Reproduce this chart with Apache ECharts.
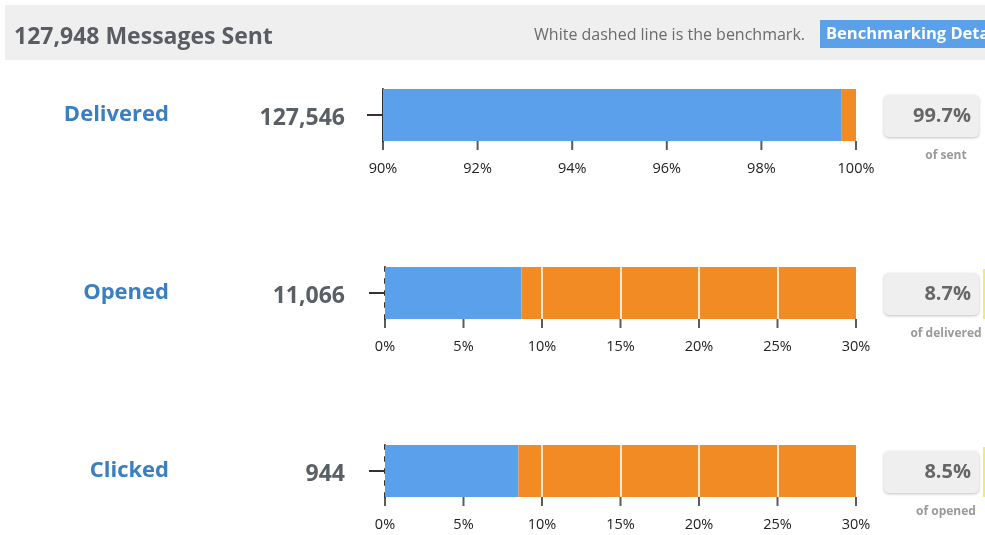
<!DOCTYPE html>
<html><head><meta charset="utf-8">
<script src="https://cdn.jsdelivr.net/npm/echarts@6/dist/echarts.min.js"></script>
<style>html,body{margin:0;padding:0;background:#fff}#c{width:985px;height:535px}</style>
</head><body><div id="c"></div>
<script>
const totalSent = 127948;
const stages = ['Delivered', 'Opened', 'Clicked'];
const counts = [127546, 11066, 944];
const rates = [99.7, 8.7, 8.5];
const rateLabels = ['99.7%', '8.7%', '8.5%'];
const ofLabels = ['of sent', 'of delivered', 'of opened'];
const axisMin = [90, 0, 0];
const axisMax = [100, 30, 30];
const axisInterval = [2, 5, 5];
const tickValues = [[90, 92, 94, 96, 98, 100], [0, 5, 10, 15, 20, 25, 30], [0, 5, 10, 15, 20, 25, 30]];
const gridLines = [[], [10, 15, 20, 25], [10, 15, 20, 25]];

const BLUE = '#5ba0ea', ORANGE = '#f28b24';
const gridTops = [89, 267, 445];
const gridLefts = [383, 385, 385];
const FONT = '"Open Sans", "Noto Sans", sans-serif';

const grids = [], xAxes = [], yAxes = [], series = [], graphics = [];

graphics.push({type:'rect', shape:{x:5,y:5,width:980,height:55}, style:{fill:'#efefef'}, z:0});
graphics.push({type:'text', x:14, y:37, style:{text: totalSent.toLocaleString('en-US') + ' Messages Sent', font:'bold 23px ' + FONT, fill:'#595d63', textVerticalAlign:'middle'}});
graphics.push({type:'text', x:805, y:35, style:{text:'White dashed line is the benchmark.', font:'16px ' + FONT, fill:'#6b6b6b', textAlign:'right', textVerticalAlign:'middle'}});
graphics.push({type:'rect', shape:{x:820,y:20,width:170,height:28}, style:{fill:BLUE}});
graphics.push({type:'text', x:826, y:34, style:{text:'Benchmarking Details', font:'bold 16.5px ' + FONT, fill:'#fff', textVerticalAlign:'middle'}});

stages.forEach((s, i) => {
  const top = gridTops[i];
  const g = grids.length;
  // bar grid
  grids.push({left: gridLefts[i], right: 129, top: top, height: 52});
  xAxes.push({type:'value', gridIndex:g, min:axisMin[i], max:axisMax[i], interval:axisInterval[i], show:false});
  yAxes.push({
    type:'category', gridIndex:g, data:[s],
    axisLine:{show:true, lineStyle:{color:'#333', width:2, type: i === 0 ? 'solid' : [4, 8]}},
    axisTick:{show:true, alignWithLabel:true, length:16, lineStyle:{color:'#333', width:2}},
    axisLabel:{show:false}
  });
  // tick strip grid below the bar
  grids.push({left: gridLefts[i], right: 129, top: top + 52, height: 9});
  xAxes.push({
    type:'value', gridIndex:g + 1, min:axisMin[i], max:axisMax[i], interval:axisInterval[i],
    axisLine:{show:false}, axisTick:{show:false}, splitLine:{show:false},
    axisLabel:{formatter:'{value}%', color:'#222', fontSize:14.5, margin:11, fontFamily:FONT}
  });
  yAxes.push({type:'value', gridIndex:g + 1, show:false, min:0, max:1});

  series.push({
    type:'bar', xAxisIndex:g, yAxisIndex:g, stack:'s'+i, data:[rates[i]],
    barWidth:'100%', itemStyle:{color:BLUE}, silent:true, z:3
  });
  series.push({
    type:'bar', xAxisIndex:g, yAxisIndex:g, stack:'s'+i, data:[+(axisMax[i] - rates[i]).toFixed(2)],
    barWidth:'100%', itemStyle:{color:ORANGE}, silent:true, z:3,
    markLine: gridLines[i].length ? {
      symbol:'none', silent:true, label:{show:false},
      lineStyle:{color:'#f6e6d6', width:2, type:'solid'},
      data: gridLines[i].filter(v => v > rates[i]).map(v => ({xAxis:v}))
    } : undefined
  });
  series.push({
    type:'scatter', xAxisIndex:g + 1, yAxisIndex:g + 1, silent:true,
    data: tickValues[i].map(v => [v, 0.5]),
    symbol:'rect', symbolSize:[2, 9], itemStyle:{color:'#333'}, clip:false
  });

  const cy = top + 26;
  graphics.push({type:'text', x:169, y:cy, style:{text:s, font:'bold 22px ' + FONT, fill:'#3a7fc1', textAlign:'right', textVerticalAlign:'middle'}});
  graphics.push({type:'text', x:345, y:cy + 3, style:{text:counts[i].toLocaleString('en-US'), font:'bold 23px ' + FONT, fill:'#5a5f66', textAlign:'right', textVerticalAlign:'middle'}});
  graphics.push({type:'rect', shape:{x:884, y:top + 6, width:95, height:42, r:5}, style:{fill:'#efefef', shadowBlur:3, shadowOffsetY:1, shadowColor:'rgba(0,0,0,0.25)'}});
  graphics.push({type:'text', x:971, y:top + 27, style:{text:rateLabels[i], font:'bold 20px ' + FONT, fill:'#666', textAlign:'right', textVerticalAlign:'middle'}});
  graphics.push({type:'text', x:946, y:top + 67, style:{text:ofLabels[i], font:'bold 12px ' + FONT, fill:'#9a9a9a', textAlign:'center', textVerticalAlign:'middle'}});
  if (i > 0) graphics.push({type:'rect', shape:{x:983, y:top + 2, width:2, height:50}, style:{fill:'#f3e97a'}});
});

const chart = echarts.init(document.getElementById('c'));
chart.setOption({animation:false, grid:grids, xAxis:xAxes, yAxis:yAxes, series:series, graphic:graphics});
</script></body></html>
